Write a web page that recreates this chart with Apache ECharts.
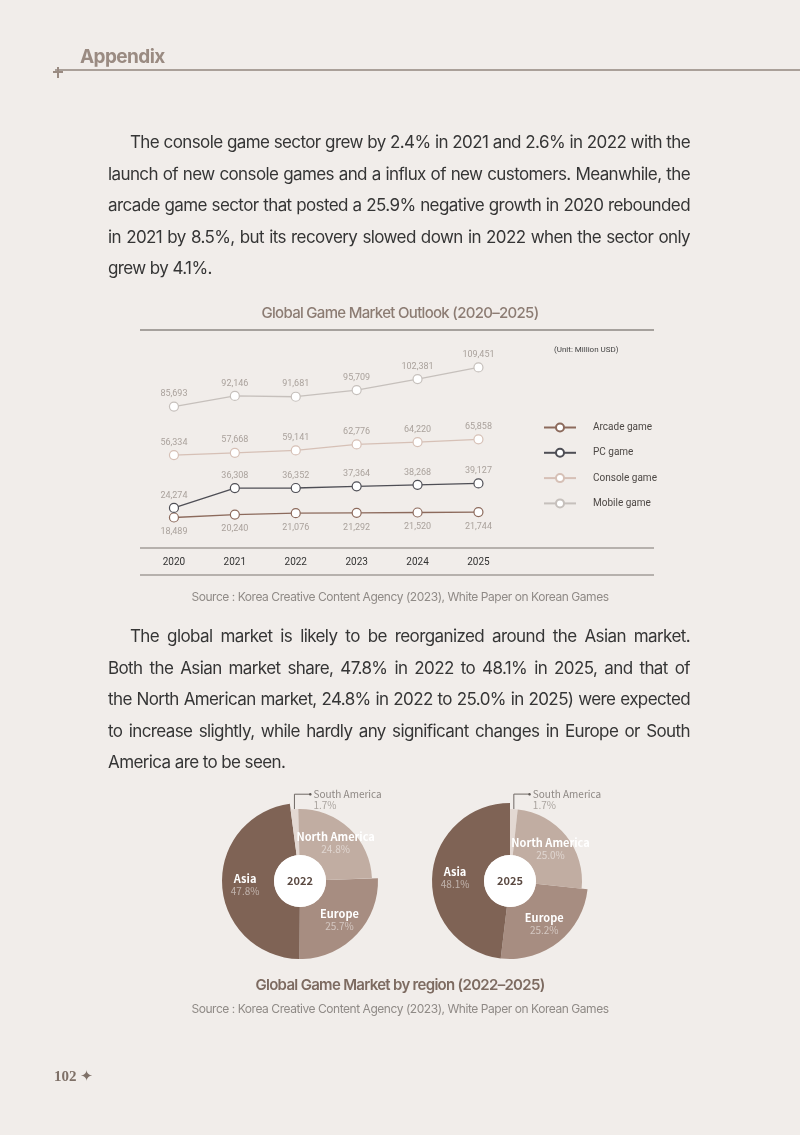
<!DOCTYPE html>
<html>
<head>
<meta charset="utf-8">
<script src="https://cdn.jsdelivr.net/npm/echarts@6/dist/echarts.min.js"></script>
<style>
    html, body { margin: 0; padding: 0; background: #f1edea; }
    #page { position: relative; width: 800px; height: 1135px; overflow: hidden; font-family: Inter, 'Noto Sans', sans-serif; }
    #chart { position: absolute; left: 0; top: 0; width: 800px; height: 1135px; }
    .abs { position: absolute; }
    .para { position: absolute; left: 108px; width: 582px; font-size: 17px; color: #353535; letter-spacing: -0.6px; word-spacing: -2px; }
    .para div { height: 31.5px; line-height: 31.5px; text-align: justify; text-align-last: justify; overflow: hidden; }
    .para div.first { padding-left: 22px; }
    .para div.last { text-align-last: left; word-spacing: 0; }
    .center { left: 0; width: 800px; text-align: center; }
</style>
</head>
<body>
<div id="page">
    <div id="chart"></div>

    <!-- 머리말 -->
    <div class="abs" style="left:80px;top:46px;font-size:19px;line-height:22px;font-weight:700;color:#9a8b82;letter-spacing:-0.6px;">Appendix</div>
    <div class="abs" style="left:55px;top:69px;width:745px;height:2px;background:#aaa099;"></div>
    <div class="abs" style="left:57px;top:67px;width:2px;height:11px;background:#9a8b82;"></div>
    <div class="abs" style="left:53px;top:71px;width:10px;height:2px;background:#9a8b82;"></div>

    <div class="para" style="top:127px;">
        <div class="first">The console game sector grew by 2.4% in 2021 and 2.6% in 2022 with the</div>
        <div>launch of new console games and a influx of new customers. Meanwhile, the</div>
        <div>arcade game sector that posted a 25.9% negative growth in 2020 rebounded</div>
        <div>in 2021 by 8.5%, but its recovery slowed down in 2022 when the sector only</div>
        <div class="last">grew by 4.1%.</div>
    </div>

    <div class="abs center" style="top:303px;font-size:15px;line-height:20px;font-weight:500;color:#8c7c73;letter-spacing:-0.7px;">Global Game Market Outlook (2020–2025)</div>
    <div class="abs center" style="top:589px;font-size:12px;line-height:16px;color:#8f8a86;letter-spacing:-0.45px;">Source : Korea Creative Content Agency (2023), White Paper on Korean Games</div>

    <div class="para" style="top:621px;">
        <div class="first">The global market is likely to be reorganized around the Asian market.</div>
        <div>Both the Asian market share, 47.8% in 2022 to 48.1% in 2025, and that of</div>
        <div>the North American market, 24.8% in 2022 to 25.0% in 2025) were expected</div>
        <div>to increase slightly, while hardly any significant changes in Europe or South</div>
        <div class="last">America are to be seen.</div>
    </div>

    <div class="abs center" style="top:975px;font-size:15px;line-height:20px;font-weight:600;color:#7d6b61;letter-spacing:-0.7px;">Global Game Market by region (2022–2025)</div>
    <div class="abs center" style="top:1001px;font-size:12px;line-height:16px;color:#8f8a86;letter-spacing:-0.45px;">Source : Korea Creative Content Agency (2023), White Paper on Korean Games</div>

    <div class="abs" style="left:54px;top:1067px;font-family:'Liberation Serif',serif;font-size:15px;line-height:18px;color:#7f7168;font-weight:bold;">102 <span style="font-family:'DejaVu Sans';font-size:15px;font-weight:normal;">✦</span></div>
</div>

<script>
// 연도별 시장 규모 (단위: 백만 USD)
const years = ['2020', '2021', '2022', '2023', '2024', '2025']
const arcadeGame = [18489, 20240, 21076, 21292, 21520, 21744]
const pcGame = [24274, 36308, 36352, 37364, 38268, 39127]
const consoleGame = [56334, 57668, 59141, 62776, 64220, 65858]
const mobileGame = [85693, 92146, 91681, 95709, 102381, 109451]

// 지역별 점유율 (%)
const regions = ['South America', 'North America', 'Europe', 'Asia']
const share2022 = [1.7, 24.8, 25.7, 47.8]
const share2025 = [1.7, 25.0, 25.2, 48.1]

const regionColors = ['#e3d8d2', '#c1ada2', '#a78d81', '#7f6355']
const PIE_Y = 881

const fmt = v => String(v).replace(/\B(?=(\d{3})+(?!\d))/g, ',')

function lineSeries(name, data, color, labelPos, dist) {
    return {
        name: name,
        type: 'line',
        data: data,
        symbol: 'circle',
        symbolSize: 9,
        itemStyle: { color: '#fff', borderColor: color, borderWidth: 1.2 },
        lineStyle: { color: color, width: 1.3 },
        label: {
            show: true,
            position: labelPos,
            distance: dist,
            color: '#aaa29c',
            fontSize: 9,
            fontFamily: 'Roboto',
            formatter: p => fmt(p.value),
        },
        animation: false,
    }
}

// 반지름이 다른 조각을 위해 한 파이를 두 층으로 나눔
function pieLayer(share, cx, startAngle, outer, showIdx) {
    return {
        type: 'pie',
        silent: true,
        animation: false,
        center: [cx, PIE_Y],
        radius: [26, outer],
        startAngle: startAngle,
        clockwise: true,
        avoidLabelOverlap: false,
        data: regions.map((name, i) => {
            const visible = showIdx.indexOf(i) > -1
            const item = {
                name: name,
                value: share[i],
                itemStyle: { color: visible ? regionColors[i] : 'rgba(0,0,0,0)' },
            }
            if (!visible) {
                item.label = { show: false }
                item.labelLine = { show: false }
            } else if (i === 0) {
                item.label = {
                    show: true,
                    position: 'outside',
                    formatter: p => '{d|●}{n|' + p.name + '}\n{s|}{p|' + p.value.toFixed(1) + '%}',
                    rich: {
                        d: { fontSize: 6, color: '#5f5955', width: 5, lineHeight: 11 },
                        n: { fontSize: 10, color: '#8e8884', fontFamily: 'Noto Sans CJK KR', lineHeight: 11 },
                        s: { width: 5, lineHeight: 11 },
                        p: { fontSize: 10, color: '#aaa49f', fontFamily: 'Noto Sans CJK KR', lineHeight: 11 },
                    },
                }
                item.labelLine = { show: true, lineStyle: { color: '#6f6864', width: 1 } }
            } else {
                item.label = {
                    show: true,
                    position: 'inside',
                    formatter: p => '{n|' + p.name + '}\n{p|' + p.value.toFixed(1) + '%}',
                    rich: {
                        n: { fontSize: 11, fontWeight: 'bold', color: '#fff', fontFamily: 'Noto Sans CJK KR', lineHeight: 13 },
                        p: { fontSize: 10, color: 'rgba(255,255,255,0.5)', fontFamily: 'Noto Sans CJK KR', lineHeight: 12 },
                    },
                }
            }
            return item
        }),
        labelLayout: params => {
            if (params.dataIndex !== 0 || !params.labelLinePoints) return
            const p0 = params.labelLinePoints[0]
            const top = p0[1] - 15
            return {
                x: p0[0] + 14,
                y: top - 5.5,
                align: 'left',
                verticalAlign: 'top',
                labelLinePoints: [p0, [p0[0], top], [p0[0] + 16, top]],
            }
        },
    }
}

function centerDisc(cx, text) {
    return [
        { type: 'circle', z: 100, shape: { cx: cx, cy: PIE_Y, r: 26 }, style: { fill: '#fff' } },
        {
            type: 'text', z: 101, x: cx, y: PIE_Y,
            style: { text: text, align: 'center', verticalAlign: 'middle', font: 'bold 11px "Noto Sans CJK KR"', fill: '#5b4a42' },
        },
    ]
}

const chart = echarts.init(document.getElementById('chart'))
const option = {
    animation: false,
    title: {
        text: '(Unit: Million USD)',
        left: 549,
        top: 341,
        textStyle: { fontSize: 8, fontWeight: 'normal', color: '#444', fontFamily: 'Roboto' },
    },
    legend: {
        data: ['Arcade game', 'PC game', 'Console game', 'Mobile game'],
        orient: 'vertical',
        left: 538,
        top: 417.5,
        itemWidth: 32,
        itemHeight: 10,
        itemGap: 15.3,
        textStyle: { fontSize: 10, color: '#4d4845', fontFamily: 'Roboto', padding: [0, 0, 0, 12] },
    },
    grid: { left: 143.5, width: 365.4, top: 350, bottom: 587 },
    xAxis: {
        type: 'category',
        data: years,
        boundaryGap: true,
        axisLine: { show: false },
        axisTick: { show: false },
        axisLabel: { margin: 9, fontSize: 10, color: '#333', fontFamily: 'Roboto' },
    },
    yAxis: {
        type: 'value',
        min: 0,
        max: 120000,
        show: false,
    },
    graphic: [
        { type: 'line', shape: { x1: 140, y1: 330, x2: 654, y2: 330 }, style: { stroke: '#8d8783', lineWidth: 1.5 } },
        { type: 'line', shape: { x1: 140, y1: 548, x2: 654, y2: 548 }, style: { stroke: '#a29c98', lineWidth: 1.5 } },
        { type: 'line', shape: { x1: 140, y1: 575, x2: 654, y2: 575 }, style: { stroke: '#a29c98', lineWidth: 1.5 } },
    ].concat(centerDisc(300, '2022'), centerDisc(510, '2025')),
    series: [
        lineSeries('Arcade game', arcadeGame, '#8c6a5c', 'bottom', 5),
        lineSeries('PC game', pcGame, '#4e4e55', 'top', 3),
        lineSeries('Console game', consoleGame, '#d6c0b6', 'top', 3),
        lineSeries('Mobile game', mobileGame, '#c6c0bc', 'top', 3),
        pieLayer(share2022, 300, 97.5, 78, [2, 3]),
        pieLayer(share2022, 300, 97.5, 72, [0, 1]),
        pieLayer(share2025, 510, 90, 78, [2, 3]),
        pieLayer(share2025, 510, 90, 72, [0, 1]),
    ],
}
option && chart.setOption(option)
</script>
</body>
</html>
